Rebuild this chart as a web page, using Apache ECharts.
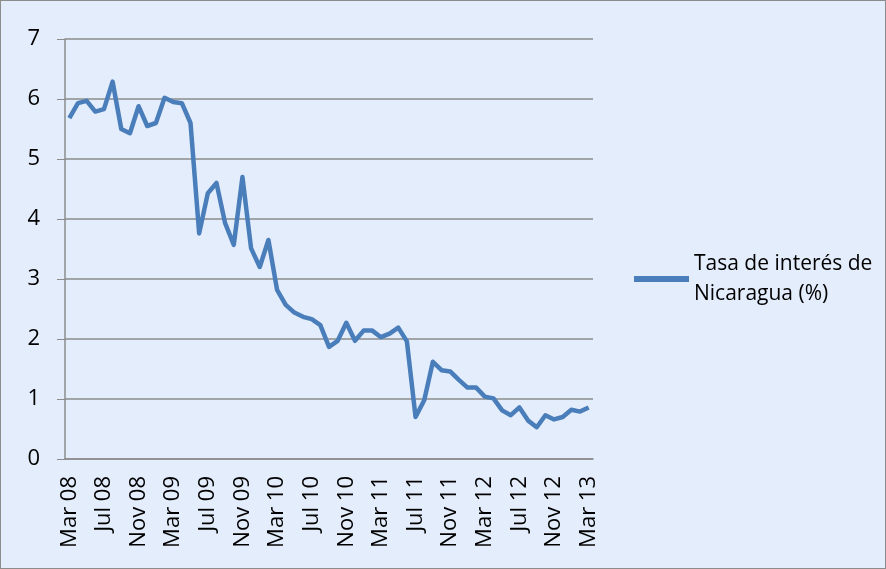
<!DOCTYPE html>
<html>
<head>
<meta charset="utf-8">
<script src="https://cdn.jsdelivr.net/npm/echarts@6/dist/echarts.min.js"></script>
<style>
  html, body { margin: 0; padding: 0; }
  #chart { width: 886px; height: 569px; box-sizing: border-box; border: 1px solid #8c8c8c; }
</style>
</head>
<body>
<div id="chart"></div>
<script>
// meses de Mar 08 a Mar 13
var meses = ['Jan', 'Feb', 'Mar', 'Apr', 'May', 'Jun', 'Jul', 'Aug', 'Sep', 'Oct', 'Nov', 'Dec'];
var categorias = [];
for (var k = 0; k < 61; k++) {
  var m = (2 + k) % 12;
  var a = 8 + Math.floor((2 + k) / 12);
  categorias.push(meses[m] + ' ' + (a < 10 ? '0' + a : a));
}

var tasa = [
  5.68, 5.93, 5.97, 5.79, 5.83, 6.29, 5.50, 5.43, 5.88, 5.55,
  5.60, 6.02, 5.95, 5.93, 5.60, 3.76, 4.43, 4.60, 3.93, 3.57,
  4.70, 3.51, 3.20, 3.65, 2.82, 2.57, 2.44, 2.37, 2.33, 2.23,
  1.87, 1.97, 2.27, 1.97, 2.14, 2.14, 2.03, 2.09, 2.19, 1.96,
  0.70, 0.98, 1.62, 1.48, 1.46, 1.32, 1.19, 1.19, 1.04, 1.01,
  0.81, 0.73, 0.86, 0.64, 0.53, 0.73, 0.66, 0.70, 0.82, 0.79,
  0.86
];

var yTicks = [0, 1, 2, 3, 4, 5, 6, 7];

var fuente = 'Open Sans';

var myChart = echarts.init(document.getElementById('chart'));
var option = {
  backgroundColor: '#E4EDFC',
  animation: false,
  grid: { left: 64, top: 38, right: 292, bottom: 109 },
  legend: {
    left: 633,
    top: 233,
    padding: 0,
    itemWidth: 55,
    itemHeight: 6,
    itemGap: 0,
    icon: 'rect',
    textStyle: {
      fontFamily: fuente,
      fontSize: 21,
      color: '#000',
      lineHeight: 30,
      padding: [30, 0, 0, 0]
    },
    formatter: function () { return 'Tasa de interés de\nNicaragua (%)'; },
    data: ['Tasa']
  },
  xAxis: {
    type: 'category',
    data: categorias,
    boundaryGap: true,
    axisLine: { lineStyle: { color: '#8c8c8c', width: 1.5 } },
    axisTick: { interval: 0, length: 6, lineStyle: { color: '#8c8c8c' } },
    axisLabel: {
      interval: 3,
      rotate: 90,
      margin: 17,
      fontFamily: fuente,
      fontSize: 22,
      color: '#000'
    },
    splitLine: { show: false }
  },
  yAxis: {
    type: 'value',
    min: yTicks[0],
    max: yTicks[yTicks.length - 1],
    interval: 1,
    axisLine: { show: true, lineStyle: { color: '#8c8c8c', width: 1.5 } },
    axisTick: { show: true, inside: false, length: 8, lineStyle: { color: '#8c8c8c' } },
    axisLabel: {
      margin: 25,
      fontFamily: fuente,
      fontSize: 22,
      color: '#000'
    },
    splitLine: { lineStyle: { color: '#8c8c8c', width: 1.5 } }
  },
  series: [{
    name: 'Tasa',
    type: 'line',
    data: tasa,
    symbol: 'none',
    itemStyle: { color: '#4A7EBB' },
    lineStyle: { color: '#4A7EBB', width: 4.5, join: 'round' }
  }]
};
myChart.setOption(option);
window.addEventListener('resize', function () { myChart.resize(); });
</script>
</body>
</html>
